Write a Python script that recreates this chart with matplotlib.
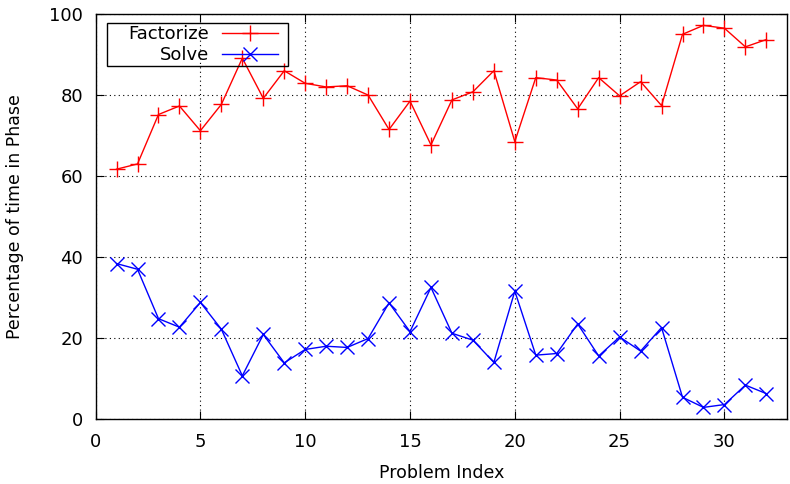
import matplotlib.pyplot as plt
from matplotlib.patches import Rectangle
from matplotlib.transforms import IdentityTransform

# problem index 1..32
problems = list(range(1, 33))

factorize = [61.7, 63.0, 75.2, 77.3, 71.2, 77.7, 89.1, 79.2, 86.0, 82.9,
             82.0, 82.3, 80.0, 71.5, 78.5, 67.7, 78.8, 80.8, 86.0, 68.5,
             84.3, 83.7, 76.6, 84.3, 79.8, 83.3, 77.4, 95.0, 97.2, 96.5,
             91.9, 93.7]

solve = [38.4, 37.0, 24.8, 22.7, 28.8, 22.2, 10.7, 20.9, 13.9, 17.2,
         18.0, 17.7, 19.9, 28.7, 21.6, 32.5, 21.2, 19.5, 14.0, 31.6,
         15.8, 16.2, 23.5, 15.6, 20.3, 16.8, 22.6, 5.4, 2.9, 3.6,
         8.4, 6.3]

xticks = [0, 5, 10, 15, 20, 25, 30]
yticks = [0, 20, 40, 60, 80, 100]

plt.rcParams['font.family'] = 'DejaVu Sans'
fig = plt.figure(figsize=(7.9, 4.84), dpi=100)
ax = fig.add_axes([0.121, 0.134, 0.8756, 0.837])

ax.plot(problems, factorize, color='red', lw=1, marker='+', ms=11,
        mew=1, label='Factorize')
ax.plot(problems, solve, color='blue', lw=1, marker='x', ms=10,
        mew=1, label='Solve')

ax.set_xlim(0, 33)
ax.set_ylim(0, 100)
ax.set_xticks(xticks)
ax.set_yticks(yticks)
ax.tick_params(direction='in', top=True, right=True, labelsize=13,
               length=6, width=0.8)
ax.tick_params(axis='y', pad=9)
ax.tick_params(axis='x', pad=10)
ax.grid(True, color='black', linestyle=(0, (1, 3)), lw=0.8)
for s in ax.spines.values():
    s.set_linewidth(1)

ax.set_xlabel('Problem Index', fontsize=12.5, labelpad=9)
ax.set_ylabel('Percentage of time in Phase', fontsize=12.5, labelpad=18)

# gnuplot-like key: text right aligned, sample after it, wide box
leg = ax.legend(loc='upper left', markerfirst=False, fontsize=13,
                frameon=False, handlelength=3.1, handletextpad=0.7,
                borderaxespad=0, borderpad=0.05, labelspacing=0.15,
                bbox_to_anchor=(0.0458, 0.974))
for t in leg.get_texts():
    t.set_ha('right')

# box around the key, wider than the legend content (as gnuplot does)
fig.canvas.draw()
bb = leg.get_window_extent(fig.canvas.get_renderer())
frame = Rectangle((bb.x0 - 20, bb.y0 - 1), bb.width + 20 + 10,
                  bb.height + 3, transform=IdentityTransform(), fill=False,
                  edgecolor='black', lw=1, zorder=6)
ax.add_artist(frame)

fig.savefig('out.png', dpi=100)
